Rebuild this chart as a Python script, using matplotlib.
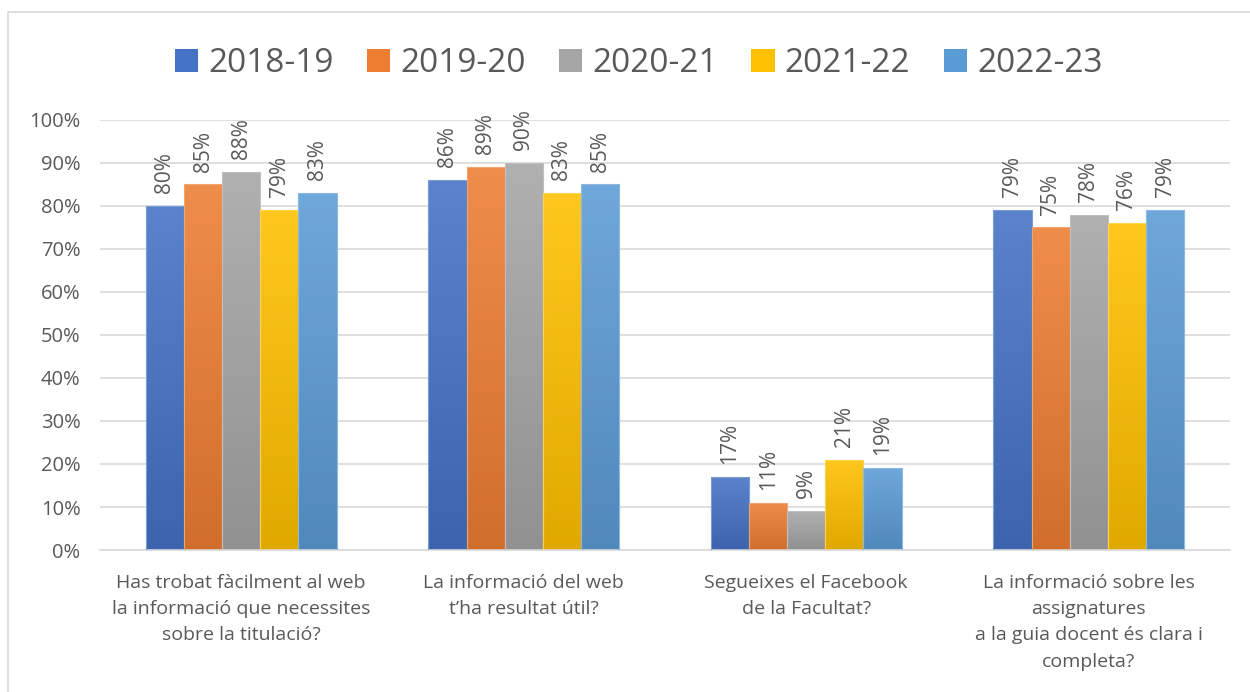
import numpy as np
import matplotlib.pyplot as plt
from matplotlib.colors import LinearSegmentedColormap, to_rgb
from matplotlib.patches import Rectangle

# dades
categories = ['Has trobat fàcilment al web\nla informació que necessites\nsobre la titulació?',
              'La informació del web\nt\u2019ha resultat útil?',
              'Segueixes el Facebook\nde la Facultat?',
              'La informació sobre les\nassignatures\na la guia docent és clara i\ncompleta?']
series = ['2018-19', '2019-20', '2020-21', '2021-22', '2022-23']
v_1819 = [0.80, 0.86, 0.17, 0.79]
v_1920 = [0.85, 0.89, 0.11, 0.75]
v_2021 = [0.88, 0.90, 0.09, 0.78]
v_2122 = [0.79, 0.83, 0.21, 0.76]
v_2223 = [0.83, 0.85, 0.19, 0.79]
values = [v_1819, v_1920, v_2021, v_2122, v_2223]
colors = ['#4472C4', '#ED7D31', '#A5A5A5', '#FFC000', '#5B9BD5']
txt = '#595959'

plt.rcParams['font.family'] = ['Open Sans', 'DejaVu Sans']

fig = plt.figure(figsize=(12.5, 6.92), dpi=100)
ax = fig.add_axes([0.08, 0.2052, 0.904, 0.6214])

# marc del gràfic
fig.patches.append(Rectangle((8 / 1250, -0.05), 1.0, 1.05 - 12 / 692, transform=fig.transFigure,
                             fill=False, edgecolor='#D9D9D9', linewidth=1.2))

x = np.arange(len(categories))
w = 0.135
grad = np.linspace(0, 1, 100).reshape(-1, 1)


def shade(c, f):
    r = np.array(to_rgb(c))
    if f > 0:
        return tuple(r + (1 - r) * f)
    return tuple(r * (1 + f))


for i, (name, vals, c) in enumerate(zip(series, values, colors)):
    pos = x + (i - 2) * w
    bars = ax.bar(pos, vals, w, color=c, label=name, zorder=2)
    cmap = LinearSegmentedColormap.from_list('g' + str(i), [shade(c, -0.12), shade(c, 0.12)])
    for b, v in zip(bars, vals):
        bx, bw = b.get_x(), b.get_width()
        im = ax.imshow(grad, extent=[bx, bx + bw, 0, v], origin='lower', cmap=cmap,
                       aspect='auto', zorder=2.5)
        im.set_clip_path(b)
        ax.add_patch(Rectangle((bx, 0), bw, v, fill=False, edgecolor=shade(c, 0.3),
                               linewidth=0.8, zorder=2.6))
        ax.text(bx + bw / 2, v + 0.03, f'{round(v * 100):d}%', rotation=90,
                ha='center', va='bottom', fontsize=15, color=txt, zorder=3)

ax.set_xlim(-0.5, 3.5)
ax.set_ylim(0, 1.0)
ax.set_yticks(np.arange(0, 1.01, 0.1))
ax.set_yticklabels([f'{int(t * 100)}%' for t in np.arange(0, 1.01, 0.1)], fontsize=14.5, color=txt)
ax.set_xticks(x)
ax.set_xticklabels(categories, fontsize=14, color=txt, linespacing=1.6)
ax.tick_params(axis='y', length=0, pad=14)
ax.tick_params(axis='x', length=0, pad=17)
ax.grid(axis='y', color='#D9D9D9', linewidth=1.2, zorder=0)
ax.set_axisbelow(True)
for s in ['top', 'right', 'left']:
    ax.spines[s].set_visible(False)
ax.spines['bottom'].set_color('#D9D9D9')
ax.spines['bottom'].set_linewidth(1.2)

leg = fig.legend(loc='center', bbox_to_anchor=(0.511, 0.908), ncol=5, frameon=False,
                 fontsize=24, handlelength=0.7, handleheight=0.7, columnspacing=1.0,
                 handletextpad=0.3)
for t in leg.get_texts():
    t.set_color(txt)

fig.savefig('out.png', dpi=100)
